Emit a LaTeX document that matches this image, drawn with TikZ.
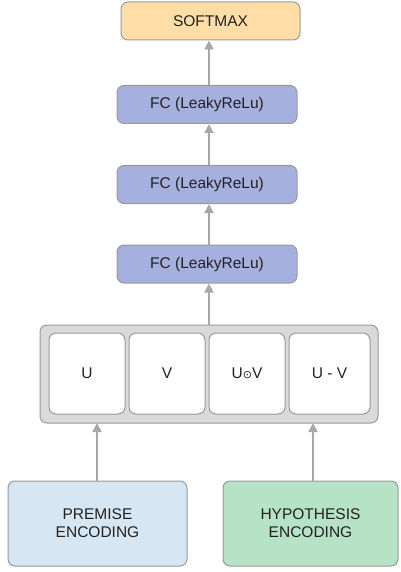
\documentclass[tikz,border=0pt]{standalone}
\usepackage{fontspec}
\setmainfont{Liberation Sans}
\newfontfamily\symfont{DejaVu Sans}
\usetikzlibrary{arrows.meta}
\definecolor{edgegray}{HTML}{9A9A9A}
\definecolor{arrowgray}{HTML}{A8A8A8}
\definecolor{softfill}{HTML}{FFDDA6}
\definecolor{fcfill}{HTML}{A6B0DF}
\definecolor{boxgray}{HTML}{DADADA}
\definecolor{premfill}{HTML}{D6E6F2}
\definecolor{hypfill}{HTML}{B6E2C6}
\definecolor{txt}{HTML}{222222}
\tikzset{
  blk/.style={draw=edgegray, line width=1pt, rounded corners=7pt, text=txt,
    font=\fontsize{15.5}{18}\selectfont, align=center, inner sep=0pt},
  flow/.style={draw=arrowgray, line width=2pt,
    -{Triangle[width=9pt,length=9pt]}},
}
\begin{document}
\begin{tikzpicture}[x=1pt,y=-1pt]
\useasboundingbox (0,0) rectangle (400,572);
% top layers
\node[blk, fill=softfill, minimum width=179pt, minimum height=38pt] (soft) at (210.5,21) {SOFTMAX};
\node[blk, fill=fcfill, minimum width=180pt, minimum height=38pt] (fc1) at (207,104.5) {FC (LeakyReLu)};
\node[blk, fill=fcfill, minimum width=180pt, minimum height=38pt] (fc2) at (207,184.5) {FC (LeakyReLu)};
\node[blk, fill=fcfill, minimum width=180pt, minimum height=38pt] (fc3) at (207,264) {FC (LeakyReLu)};
% combination block
\node[blk, fill=boxgray, minimum width=338pt, minimum height=98pt] (comb) at (209,374) {};
\node[blk, fill=white, minimum width=76pt, minimum height=81pt] (u) at (87,373.5) {U};
\node[blk, fill=white, minimum width=76pt, minimum height=81pt] (v) at (167,373.5) {V};
\node[blk, fill=white, minimum width=76pt, minimum height=81pt] (uv) at (247,373.5) {U\raisebox{0.5pt}{\symfont\fontsize{11}{12}\selectfont ⊙}V};
\node[blk, fill=white, minimum width=81pt, minimum height=81pt] (diff) at (329.5,373.5) {U - V};
% encoders
\node[blk, fill=premfill, minimum width=179pt, minimum height=85pt] (prem) at (97.5,523.5) {PREMISE\\ENCODING};
\node[blk, fill=hypfill, minimum width=175pt, minimum height=85pt] (hyp) at (310.5,523.5) {HYPOTHESIS\\ENCODING};
% connectors
\coordinate (pin) at (97,423);
\coordinate (hin) at (313,423);
\draw[flow] (prem.north -| pin) -- (pin);
\draw[flow] (hyp.north -| hin) -- (hin);
\draw[flow] (comb.north -| 209,0) -- (fc3.south -| 209,0);
\draw[flow] (fc3.north -| 209,0) -- (fc2.south -| 209,0);
\draw[flow] (fc2.north -| 209,0) -- (fc1.south -| 209,0);
\draw[flow] (fc1.north -| 209,0) -- (soft.south -| 209,0);
\end{tikzpicture}
\end{document}
